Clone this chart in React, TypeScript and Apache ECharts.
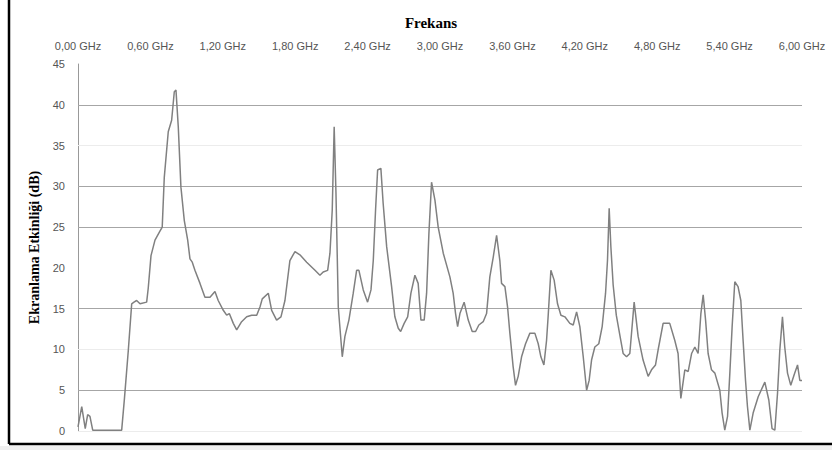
import React, { useEffect, useRef } from "react";
import * as echarts from "echarts";

const freqs = [0, 0.031, 0.060, 0.080, 0.099, 0.122, 0.362, 0.385, 0.417, 0.445,
  0.464, 0.486, 0.514, 0.569, 0.582, 0.605, 0.638, 0.679, 0.698, 0.715,
  0.748, 0.776, 0.798, 0.812, 0.831, 0.853, 0.881, 0.909, 0.928, 0.947,
  0.969, 1.011, 1.052, 1.094, 1.135, 1.162, 1.204, 1.232, 1.254, 1.287,
  1.315, 1.356, 1.398, 1.439, 1.481, 1.508, 1.527, 1.577, 1.605, 1.646,
  1.682, 1.715, 1.756, 1.798, 1.839, 1.895, 1.964, 2.005, 2.032, 2.069,
  2.088, 2.107, 2.123, 2.138, 2.157, 2.190, 2.212, 2.245, 2.281, 2.309,
  2.328, 2.364, 2.400, 2.428, 2.447, 2.466, 2.483, 2.510, 2.529, 2.558,
  2.599, 2.626, 2.654, 2.674, 2.703, 2.732, 2.759, 2.792, 2.819, 2.842,
  2.869, 2.889, 2.908, 2.930, 2.958, 2.985, 3.027, 3.082, 3.109, 3.129,
  3.146, 3.165, 3.200, 3.234, 3.267, 3.295, 3.322, 3.358, 3.386, 3.413,
  3.441, 3.469, 3.496, 3.510, 3.538, 3.560, 3.579, 3.606, 3.626, 3.648,
  3.676, 3.709, 3.745, 3.786, 3.814, 3.836, 3.861, 3.883, 3.896, 3.919,
  3.946, 3.974, 4.002, 4.035, 4.076, 4.104, 4.132, 4.159, 4.187, 4.215,
  4.236, 4.256, 4.283, 4.316, 4.344, 4.372, 4.388, 4.402, 4.416, 4.435,
  4.461, 4.490, 4.518, 4.546, 4.573, 4.609, 4.642, 4.683, 4.725, 4.753,
  4.786, 4.807, 4.849, 4.904, 4.946, 4.973, 4.996, 5.029, 5.057, 5.085,
  5.112, 5.139, 5.162, 5.181, 5.201, 5.222, 5.250, 5.278, 5.319, 5.338,
  5.360, 5.383, 5.402, 5.421, 5.443, 5.470, 5.493, 5.512, 5.532, 5.548,
  5.568, 5.595, 5.637, 5.692, 5.725, 5.752, 5.775, 5.797, 5.816, 5.838,
  5.857, 5.880, 5.907, 5.935, 5.963, 5.982, 6.0];

const shieldingDb = [0.5, 3.0, 0.3, 2.0, 1.8, 0.1, 0.1, 4.0, 9.9, 15.6,
  15.8, 16.0, 15.6, 15.8, 17.5, 21.5, 23.4, 24.5, 25.0, 31.1,
  36.7, 38.1, 41.6, 41.8, 37.3, 29.9, 25.8, 23.4, 21.1, 20.7,
  19.7, 18.1, 16.4, 16.4, 17.1, 16.0, 14.8, 14.2, 14.4, 13.2,
  12.4, 13.4, 14.0, 14.2, 14.2, 15.2, 16.2, 16.9, 14.8, 13.6,
  14.0, 16.0, 20.9, 22.0, 21.6, 20.7, 19.7, 19.1, 19.5, 19.7,
  21.8, 27.1, 37.3, 29.1, 15.2, 9.1, 11.6, 13.6, 16.9, 19.7,
  19.7, 17.3, 15.8, 17.3, 20.9, 27.1, 32.0, 32.2, 27.9, 22.6,
  17.7, 14.0, 12.6, 12.2, 13.2, 14.0, 16.9, 19.1, 18.1, 13.6,
  13.6, 16.9, 24.2, 30.5, 28.3, 25.0, 21.8, 18.9, 16.9, 14.4,
  12.8, 14.4, 15.8, 13.6, 12.2, 12.2, 13.0, 13.4, 14.4, 18.9,
  21.3, 24.0, 20.9, 18.1, 17.7, 15.2, 12.0, 7.9, 5.6, 6.7,
  9.1, 10.7, 12.0, 12.0, 10.7, 9.1, 8.1, 11.1, 14.0, 19.7,
  18.5, 15.6, 14.2, 14.0, 13.2, 13.0, 14.6, 12.8, 9.1, 5.0,
  6.2, 8.7, 10.3, 10.7, 12.8, 16.9, 20.9, 27.3, 22.6, 17.9,
  14.2, 11.8, 9.5, 9.1, 9.5, 15.8, 11.6, 8.7, 6.7, 7.5,
  8.1, 9.9, 13.2, 13.2, 11.1, 9.5, 4.0, 7.5, 7.3, 9.5,
  10.3, 9.5, 14.4, 16.7, 13.6, 9.5, 7.5, 7.1, 5.0, 2.2,
  0.1, 1.8, 7.1, 12.8, 18.3, 17.7, 16.0, 11.1, 6.2, 3.0,
  0.1, 2.2, 4.2, 6.0, 3.8, 0.3, 0.1, 4.6, 9.9, 14.0,
  10.3, 7.1, 5.6, 6.9, 8.1, 6.2, 6.2];

const gridLevelsStrong = [5, 15, 25, 30, 40];
const gridLevelsFaint = [0, 10, 35];

const titleText = "Frekans";
const yAxisName = "Ekranlama Etkinliği (dB)";

export default function App() {
  const ref = useRef<HTMLDivElement>(null);
  useEffect(() => {
    if (!ref.current) return;
    const chart = echarts.init(ref.current, null, { renderer: "svg" });
    const data = freqs.map((f, i) => [f, shieldingDb[i]]);
    const markData: any[] = [
      ...gridLevelsStrong.map((v) => ({ yAxis: v, lineStyle: { color: "#a6a6a6", width: 1, type: "solid" } })),
      ...gridLevelsFaint.map((v) => ({ yAxis: v, lineStyle: { color: "#ececec", width: 1, type: "solid" } })),
    ];
    chart.setOption({
      animation: false,
      backgroundColor: "#ffffff",
      title: {
        text: titleText,
        left: 426,
        top: 10,
        textAlign: "center",
        textStyle: { fontFamily: "Liberation Serif", fontWeight: "bold", fontSize: 15, color: "#000" },
      },
      grid: { left: 78, right: 30, top: 64, bottom: 19, containLabel: false },
      xAxis: {
        type: "value",
        position: "top",
        min: 0,
        max: 6,
        interval: 0.6,
        axisLine: { show: false },
        axisTick: { show: false },
        splitLine: { show: false },
        axisLabel: {
          margin: 13,
          fontSize: 11,
          fontFamily: "Liberation Sans",
          color: "#555",
          formatter: (v: number) => v.toFixed(2).replace(".", ",") + " GHz",
        },
      },
      yAxis: {
        type: "value",
        min: 0,
        max: 45,
        interval: 5,
        name: yAxisName,
        nameLocation: "middle",
        nameGap: 35,
        nameTextStyle: { fontFamily: "Liberation Serif", fontWeight: "bold", fontSize: 14, color: "#000" },
        axisLine: { show: true, lineStyle: { color: "#999999", width: 1 } },
        axisTick: { show: false },
        splitLine: { show: false },
        axisLabel: { margin: 13, fontSize: 11, fontFamily: "Liberation Sans", color: "#555" },
      },
      graphic: [
        { type: "line", shape: { x1: 9, y1: 0, x2: 9, y2: 444 }, style: { stroke: "#000", lineWidth: 2.5 } },
        { type: "line", shape: { x1: 9, y1: 444, x2: 832, y2: 444 }, style: { stroke: "#000", lineWidth: 2.5 } },
        { type: "rect", shape: { x: 0, y: 446, width: 832, height: 4 }, style: { fill: "#f0f0f0" } },
      ],
      series: [
        {
          type: "line",
          data,
          showSymbol: false,
          symbol: "none",
          lineStyle: { color: "#808080", width: 1.5 },
          z: 3,
          markLine: {
            silent: true,
            symbol: "none",
            label: { show: false },
            data: markData,
            z: 1,
          },
        },
      ],
    });
    return () => chart.dispose();
  }, []);
  return <div ref={ref} style={{ position: "fixed", left: 0, top: 0, width: 832, height: 450 }} />;
}
